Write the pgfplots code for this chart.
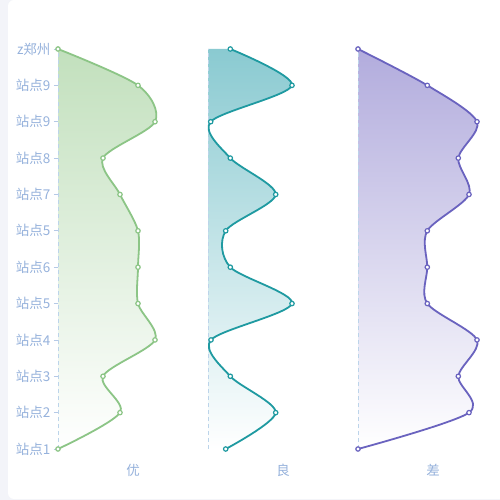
\documentclass[border=0pt]{standalone}
\usepackage{fontspec}
\usepackage{pgfplots}
\pgfplotsset{compat=1.18}
\newfontfamily\cjk{Noto Sans CJK SC}
\definecolor{lab}{HTML}{96B2DC}
\definecolor{bgg}{HTML}{F3F4F9}
\definecolor{base}{HTML}{BCD4EA}
\definecolor{gline}{HTML}{8CC586}
\definecolor{gtop}{HTML}{C2E0BD}
\definecolor{tline}{HTML}{1F9AA1}
\definecolor{ttop}{HTML}{8ACAD1}
\definecolor{pline}{HTML}{6A63BF}
\definecolor{ptop}{HTML}{B2ACDD}
\pgfplotsset{
  panel/.style={scale only axis, width=142bp, height=400bp, xmin=0, xmax=142,
    ymin=0, ymax=11, clip=false, anchor=south west},
  curve/.style={smooth, tension=0.5, line width=1.8bp, mark=*, mark size=2.2bp,
    mark options={fill=white, line width=1.2bp, solid}},
  area/.style={smooth, tension=0.5, draw=none, bottom color=white, top color=#1},
  basel/.style={draw=base, line width=0.8bp, dash pattern=on 4bp off 3bp}
}
\tikzset{xlab/.style={text=lab, font=\cjk\fontsize{13.5bp}{15bp}\selectfont}}
\begin{document}
\begin{tikzpicture}
\fill[bgg] (0,0) rectangle (500bp,500bp);
\fill[white, rounded corners=6bp] (8bp,1bp) rectangle (540bp,500bp);

% Panel 1
\begin{axis}[panel, at={(58bp,51bp)}, hide x axis, y axis line style={draw=none},
  ytick pos=left, ytick={0,...,11},
  yticklabels={站点1,站点2,站点3,站点4,站点5,站点6,站点5,站点7,站点8,站点9,站点9,z郑州},
  yticklabel style={font=\cjk\fontsize{13.5bp}{15bp}\selectfont, text=lab},
  tick style={draw=lab!70, line width=0.8bp}, major tick length=4bp, tick align=outside]
\addplot[area=gtop] coordinates {
(0,0) (62,1) (45,2) (97,3) (80,4) (80,5) (80,6) (62,7) (45,8) (97,9) (80,10) (0,11)} -- cycle;
\addplot[basel] coordinates {(0,0) (0,11)};
\addplot[gline, curve] coordinates {
(0,0) (62,1) (45,2) (97,3) (80,4) (80,5) (80,6) (62,7) (45,8) (97,9) (80,10) (0,11)};
\node[xlab] at (axis cs:75,-0.58) {优};
\end{axis}

% Panel 2
\begin{axis}[panel, at={(208bp,51bp)}, hide axis]
\addplot[area=ttop] coordinates {
(17.7,0) (67.7,1) (22.3,2) (3,3) (84,4) (22.3,5) (17.7,6) (67.7,7) (22.3,8) (2.7,9) (84,10) (22.3,11)}
  -- (axis cs:0,11) -- (axis cs:0,0) -- cycle;
\addplot[basel] coordinates {(0,0) (0,11)};
\addplot[tline, curve] coordinates {
(17.7,0) (67.7,1) (22.3,2) (3,3) (84,4) (22.3,5) (17.7,6) (67.7,7) (22.3,8) (2.7,9) (84,10) (22.3,11)};
\node[xlab] at (axis cs:75,-0.58) {良};
\end{axis}

% Panel 3
\begin{axis}[panel, at={(358bp,51bp)}, hide axis]
\addplot[area=ptop] coordinates {
(0,0) (111,1) (100.3,2) (119,3) (69.3,4) (69.3,5) (69.3,6) (111,7) (100.3,8) (119,9) (69.3,10) (0,11)} -- cycle;
\addplot[basel] coordinates {(0,0) (0,11)};
\addplot[pline, curve] coordinates {
(0,0) (111,1) (100.3,2) (119,3) (69.3,4) (69.3,5) (69.3,6) (111,7) (100.3,8) (119,9) (69.3,10) (0,11)};
\node[xlab] at (axis cs:75,-0.58) {差};
\end{axis}
\pgfresetboundingbox
\useasboundingbox (0,0) rectangle (500bp,500bp);
\end{tikzpicture}
\end{document}
